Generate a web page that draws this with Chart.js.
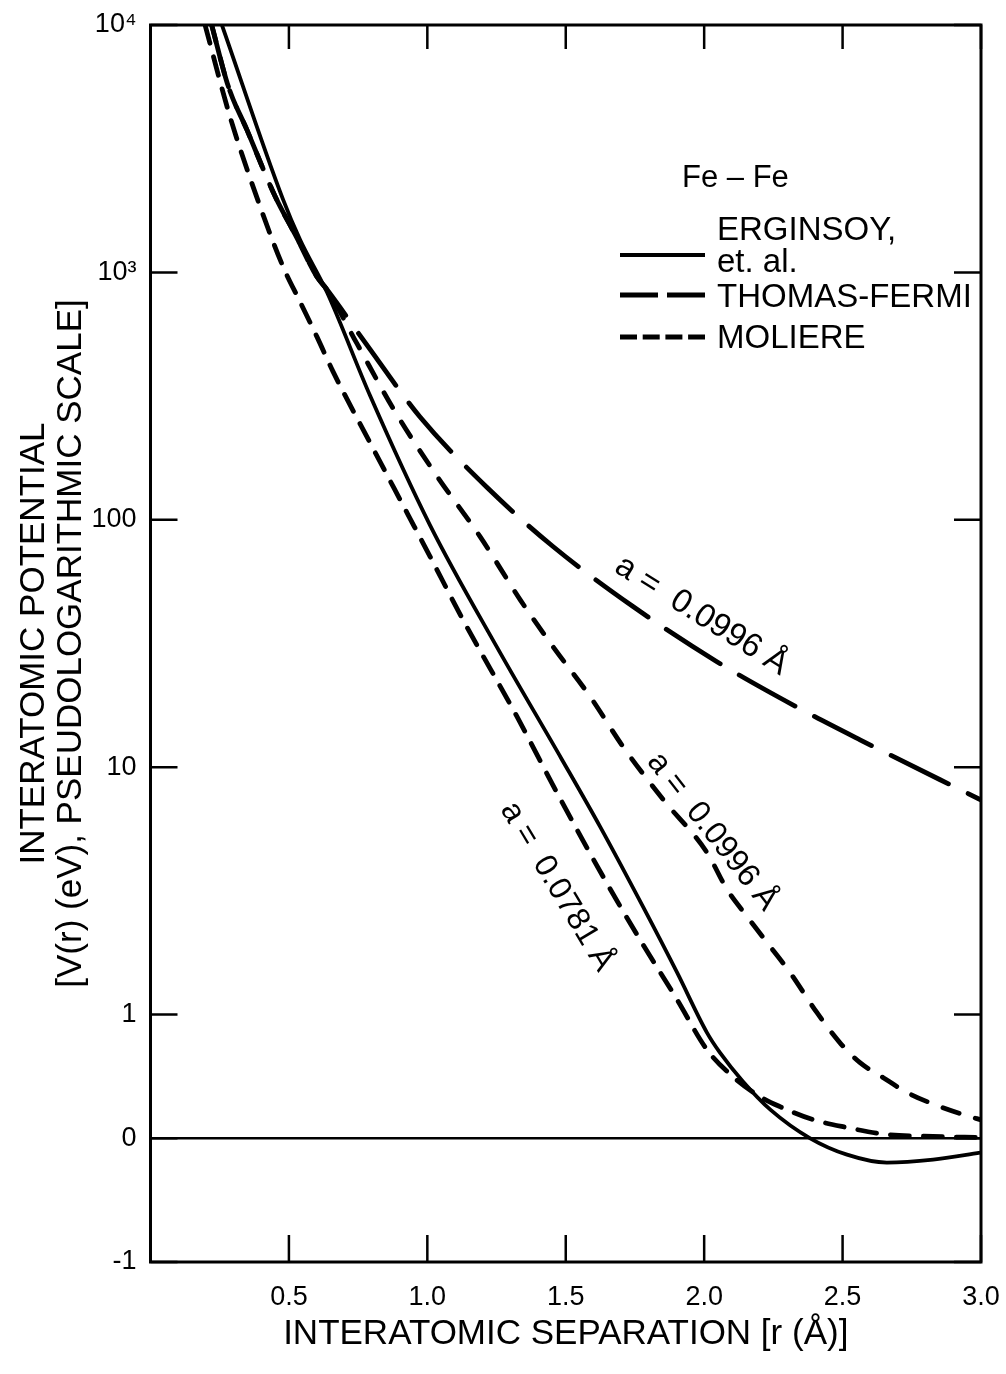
<!DOCTYPE html>
<html>
<head>
<meta charset="utf-8">
<script src="https://cdn.jsdelivr.net/npm/chart.js@4.4.1/dist/chart.umd.min.js"></script>
<style>
  html, body { margin: 0; padding: 0; background: #ffffff; }
  canvas { display: block; }
</style>
</head>
<body>
<canvas id="chart" width="1006" height="1374" style="width:1006px;height:1374px"></canvas>
<script>
// ---------------- data (r in Å, V in eV) ----------------
const rErginsoy = [0.258, 0.479, 0.540, 0.638, 0.793, 1.010, 1.252, 1.485, 1.624, 1.779, 1.902, 2.010, 2.057, 2.140, 2.240, 2.383, 2.516, 2.660, 2.827, 2.997];
const vErginsoy = [10000, 1968, 1358, 829, 318, 95, 30.5, 10.8, 5.75, 2.73, 1.48, 0.854, 0.692, 0.46, 0.23, 0.0, -0.132, -0.196, -0.172, -0.116];

const rThomasFermi = [0.221, 0.281, 0.348, 0.450, 0.528, 0.600, 0.638, 0.786, 0.973, 1.216, 1.454, 1.743, 2.046, 2.339, 2.563, 2.997];
const vThomasFermi = [10000, 5650, 3776, 2031, 1384, 964, 851, 501, 261, 135, 78, 44.6, 26.7, 17.4, 12.9, 7.4];

const rMoliere0996 = [0.221, 0.281, 0.348, 0.450, 0.528, 0.600, 0.638, 0.746, 0.883, 1.035, 1.190, 1.335, 1.454, 1.588, 1.707, 1.852, 2.010, 2.083, 2.155, 2.228, 2.310, 2.407, 2.490, 2.563, 2.647, 2.733, 2.852, 2.961, 2.997];
const vMoliere0996 = [10000, 5650, 3776, 2031, 1384, 964, 851, 515, 274, 150, 85.7, 47.6, 30.7, 19.3, 12.1, 7.4, 4.52, 3.20, 2.49, 1.95, 1.48, 1.02, 0.774, 0.612, 0.49, 0.37, 0.256, 0.175, 0.151];

const rMoliere0781 = [0.197, 0.287, 0.396, 0.479, 0.540, 0.601, 0.659, 0.793, 0.930, 1.010, 1.129, 1.324, 1.468, 1.635, 1.768, 1.902, 2.010, 2.104, 2.202, 2.274, 2.393, 2.516, 2.660, 2.827, 2.997];
const vMoliere0781 = [10000, 4266, 1845, 1054, 762, 550, 398, 205, 105, 71, 39.4, 16.0, 7.9, 3.61, 2.01, 1.15, 0.717, 0.498, 0.337, 0.256, 0.151, 0.087, 0.03, 0.015, 0.006];

const rZeroLine = [0, 3];
const vZeroLine = [0, 0];

const xTickValues = [0.5, 1.0, 1.5, 2.0, 2.5, 3.0];
const xTickLabels = ['0.5', '1.0', '1.5', '2.0', '2.5', '3.0'];
const yTickValues = [-1, 0, 1, 10, 100, 1000, 10000];
const yTickLabels = ['-1', '0', '1', '10', '100', '10\u00B3', '10\u2074'];

const curveLabelTexts = ['a =  0.0996 \u00C5', 'a =  0.0996 \u00C5', 'a =  0.0781 \u00C5'];
const curveLabelR = [1.99, 2.029, 1.468];
const curveLabelV = [41, 5.49, 3.29];
const curveLabelAngle = [32, 52, 59];
const curveLabelSize = [33, 32, 32];

const legendTitle = 'Fe \u2013 Fe';
const legendLabels = [['ERGINSOY,', 'et. al.'], ['THOMAS-FERMI'], ['MOLIERE']];

const xTitle = 'INTERATOMIC SEPARATION [r (\u00C5)]';
const yTitle = ['INTERATOMIC POTENTIAL', '[V(r) (eV), PSEUDOLOGARITHMIC SCALE]'];

// ---------------- pseudo-logarithmic mapping ----------------
// log10 above 1, linear between -1 and 1 (one unit = half a decade)
function pseudoLog(v) { return v >= 1 ? Math.log10(v) : (v - 1) / 2; }
function toPoints(rs, vs) { return rs.map((r, i) => ({ x: r, y: pseudoLog(vs[i]) })); }

const FONT = '"Liberation Sans", Arial, Helvetica, sans-serif';

// ---------------- plugins ----------------
const frameAndTicks = {
  id: 'frameAndTicks',
  afterDatasetsDraw(chart) {
    const { ctx, chartArea: a, scales: { x, y } } = chart;
    ctx.save();
    ctx.strokeStyle = '#000';
    ctx.lineWidth = 3;
    ctx.strokeRect(a.left, a.top, a.right - a.left, a.bottom - a.top);
    ctx.lineWidth = 2.5;
    ctx.beginPath();
    y.ticks.forEach(tk => {
      const py = y.getPixelForValue(tk.value);
      ctx.moveTo(a.left, py); ctx.lineTo(a.left + 27, py);
      ctx.moveTo(a.right, py); ctx.lineTo(a.right - 27, py);
    });
    x.ticks.forEach(tk => {
      const px = x.getPixelForValue(tk.value);
      ctx.moveTo(px, a.bottom); ctx.lineTo(px, a.bottom - 27);
      ctx.moveTo(px, a.top); ctx.lineTo(px, a.top + 24);
    });
    ctx.stroke();
    ctx.restore();
  }
};

const curveLabels = {
  id: 'curveLabels',
  afterDatasetsDraw(chart) {
    const { ctx, scales: { x, y } } = chart;
    ctx.save();
    ctx.fillStyle = '#000';
    ctx.textAlign = 'center';
    ctx.textBaseline = 'middle';
    curveLabelTexts.forEach((txt, i) => {
      const px = x.getPixelForValue(curveLabelR[i]);
      const py = y.getPixelForValue(pseudoLog(curveLabelV[i]));
      ctx.save();
      ctx.font = curveLabelSize[i] + 'px ' + FONT;
      ctx.translate(px, py);
      ctx.rotate(curveLabelAngle[i] * Math.PI / 180);
      ctx.fillText(txt, 0, 0);
      ctx.restore();
    });
    ctx.restore();
  }
};

const legendBox = {
  id: 'legendBox',
  afterDraw(chart) {
    const ctx = chart.ctx;
    ctx.save();
    ctx.fillStyle = '#000';
    ctx.strokeStyle = '#000';
    ctx.textAlign = 'left';
    ctx.textBaseline = 'alphabetic';
    ctx.font = '31px ' + FONT;
    ctx.fillText(legendTitle, 682, 187);
    ctx.font = '33px ' + FONT;
    const textX = 717, x0 = 620, x1 = 705;
    // Erginsoy
    ctx.fillText(legendLabels[0][0], textX, 240);
    ctx.fillText(legendLabels[0][1], textX, 272);
    ctx.lineWidth = 4; ctx.setLineDash([]);
    ctx.beginPath(); ctx.moveTo(x0, 255); ctx.lineTo(x1, 255); ctx.stroke();
    // Thomas-Fermi
    ctx.fillText(legendLabels[1][0], textX, 307);
    ctx.lineWidth = 5; ctx.setLineDash([38, 9]);
    ctx.beginPath(); ctx.moveTo(x0, 295); ctx.lineTo(x1, 295); ctx.stroke();
    // Moliere
    ctx.fillText(legendLabels[2][0], textX, 348);
    ctx.setLineDash([17, 5.7]);
    ctx.beginPath(); ctx.moveTo(x0, 337); ctx.lineTo(x1, 337); ctx.stroke();
    ctx.restore();
  }
};

// ---------------- chart ----------------
const lineBase = { borderColor: '#000', backgroundColor: '#000', pointRadius: 0, fill: false,
                   cubicInterpolationMode: 'monotone', borderJoinStyle: 'round' };

new Chart(document.getElementById('chart').getContext('2d'), {
  type: 'line',
  data: {
    datasets: [
      Object.assign({}, lineBase, { label: 'zero', data: toPoints(rZeroLine, vZeroLine), borderWidth: 2.5, cubicInterpolationMode: 'default' }),
      Object.assign({}, lineBase, { label: 'ERGINSOY, et. al.', data: toPoints(rErginsoy, vErginsoy), borderWidth: 3.8 }),
      Object.assign({}, lineBase, { label: 'THOMAS-FERMI a = 0.0996', data: toPoints(rThomasFermi, vThomasFermi), borderWidth: 4.8,
                      borderDash: [64, 22], borderCapStyle: 'round' }),
      Object.assign({}, lineBase, { label: 'MOLIERE a = 0.0996', data: toPoints(rMoliere0996, vMoliere0996), borderWidth: 4.8,
                      borderDash: [17, 17], borderCapStyle: 'round' }),
      Object.assign({}, lineBase, { label: 'MOLIERE a = 0.0781', data: toPoints(rMoliere0781, vMoliere0781), borderWidth: 4.8,
                      borderDash: [19, 14], borderCapStyle: 'round' })
    ]
  },
  options: {
    responsive: false,
    animation: false,
    devicePixelRatio: 1,
    layout: { padding: { top: 25, right: 25, left: 0, bottom: 0 } },
    plugins: { legend: { display: false }, tooltip: { enabled: false } },
    scales: {
      x: {
        type: 'linear', min: 0, max: 3,
        afterBuildTicks: s => { s.ticks = xTickValues.map(v => ({ value: v })); },
        afterFit: s => { s.height = 112; s.paddingLeft = 0; s.paddingRight = 0; },
        grid: { display: false, drawTicks: false },
        border: { display: false },
        ticks: { callback: (v, i) => xTickLabels[i], color: '#000', font: { family: FONT, size: 27 },
                 padding: 19, maxRotation: 0, autoSkip: false },
        title: { display: true, text: xTitle, color: '#000', font: { family: FONT, size: 35 },
                 padding: { top: 0, bottom: 19 } }
      },
      y: {
        type: 'linear', min: -1, max: 4,
        afterBuildTicks: s => { s.ticks = yTickValues.map(v => ({ value: pseudoLog(v) })); },
        afterFit: s => { s.width = 150.5; s.paddingTop = 0; s.paddingBottom = 0; },
        grid: { display: false, drawTicks: false },
        border: { display: false },
        ticks: { callback: (v, i) => yTickLabels[i], color: '#000', font: { family: FONT, size: 27 },
                 padding: 14, autoSkip: false },
        title: { display: true, text: yTitle, color: '#000', font: { family: FONT, size: 35, lineHeight: 1.06 },
                 padding: { top: 16, bottom: 0 } }
      }
    }
  },
  plugins: [frameAndTicks, curveLabels, legendBox]
});
</script>
</body>
</html>
